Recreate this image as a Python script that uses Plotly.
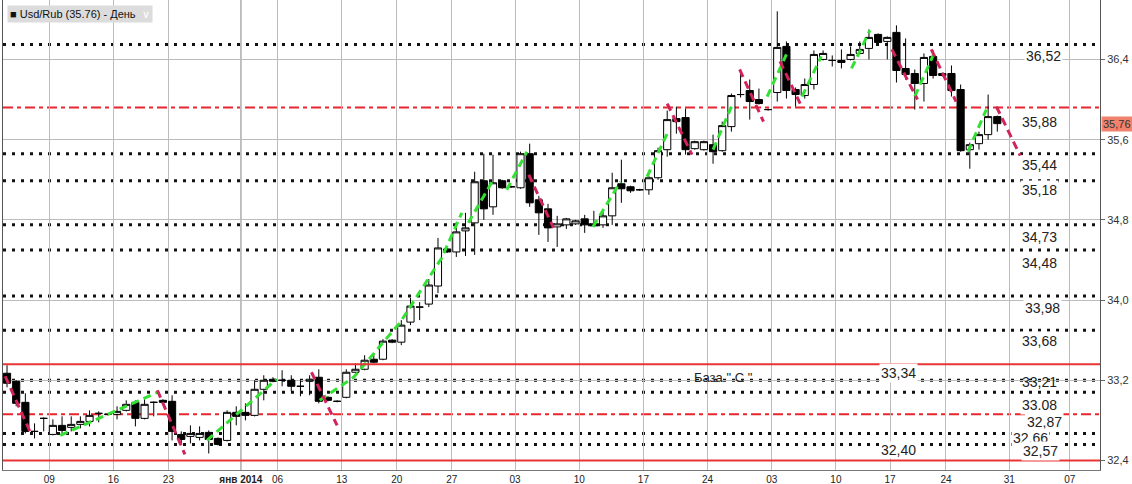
"""
Usd/Rub дневной график: свечи, уровни и зигзаг
"""
import plotly.graph_objects as go

# --- данные (свечи по торговым дням, индекс = номер бара) ---
opens = [33.27, 33.19, 32.98, 32.69, 32.82, 32.66, 32.75, 32.73, 32.76, 32.79,
         32.87, 32.86, 32.86, 32.90, 32.98, 32.82, 32.98, 33.00, 32.99, 32.66,
         32.64, 32.63, 32.68, 32.62, 32.60, 32.88, 32.88, 32.85, 33.11, 33.21,
         33.20, 33.20, 33.14, 33.19, 33.23, 33.03, 32.99, 33.03, 33.28, 33.31,
         33.41, 33.41, 33.60, 33.58, 33.78, 33.93, 33.96, 34.14, 34.51, 34.48,
         34.69, 34.77, 35.19, 34.93, 35.19, 35.13, 35.12, 35.46, 35.00, 34.91,
         34.73, 34.75, 34.76, 34.81, 34.76, 34.75, 34.84, 35.16, 35.13, 35.10,
         35.10, 35.22, 35.50, 35.81, 35.82, 35.51, 35.50, 35.55, 35.49, 35.73,
         36.05, 36.09, 36.00, 35.90, 36.07, 36.53, 36.10, 36.04, 36.15, 36.40,
         36.39, 36.39, 36.40, 36.46, 36.51, 36.65, 36.58, 36.67, 36.31, 36.26,
         36.16, 36.43, 36.26, 36.26, 36.10, 35.50, 35.56, 35.65, 35.83]
highs = [33.35, 33.20, 33.07, 32.77, 32.83, 32.81, 32.84, 32.84, 32.84, 32.90,
         32.89, 32.87, 32.94, 33.00, 33.00, 33.02, 32.99, 33.01, 33.05, 32.69,
         32.75, 32.74, 32.70, 32.63, 32.90, 32.94, 32.97, 33.20, 33.25, 33.23,
         33.30, 33.25, 33.20, 33.25, 33.31, 33.04, 33.00, 33.31, 33.37, 33.45,
         33.46, 33.61, 33.61, 33.80, 34.02, 33.98, 34.21, 34.62, 34.52, 34.78,
         34.87, 35.28, 35.46, 35.45, 35.20, 35.14, 35.48, 35.56, 35.04, 34.96,
         34.84, 34.82, 34.80, 34.85, 34.89, 34.88, 35.27, 35.40, 35.14, 35.11,
         35.24, 35.52, 35.89, 35.93, 35.91, 35.59, 35.59, 35.65, 35.78, 36.06,
         36.27, 36.20, 36.11, 35.91, 36.88, 36.58, 36.12, 36.21, 36.49, 36.49,
         36.44, 36.50, 36.53, 36.58, 36.70, 36.66, 36.63, 36.74, 36.61, 36.30,
         36.46, 36.49, 36.27, 36.34, 36.15, 35.57, 35.68, 36.05, 35.84]
lows = [33.13, 32.94, 32.67, 32.62, 32.69, 32.65, 32.67, 32.69, 32.72, 32.74,
        32.78, 32.85, 32.81, 32.89, 32.74, 32.81, 32.84, 32.97, 32.60, 32.57,
        32.57, 32.60, 32.47, 32.55, 32.59, 32.75, 32.80, 32.84, 33.00, 33.18,
        33.14, 33.09, 33.04, 33.05, 32.97, 32.99, 32.98, 33.02, 33.27, 33.30,
        33.37, 33.40, 33.57, 33.55, 33.75, 33.80, 33.93, 34.07, 34.47, 34.43,
        34.44, 34.45, 34.80, 34.85, 35.11, 35.12, 35.11, 34.93, 34.65, 34.58,
        34.53, 34.71, 34.75, 34.67, 34.73, 34.72, 34.75, 34.97, 35.07, 35.09,
        35.05, 35.20, 35.43, 35.66, 35.45, 35.50, 35.49, 35.36, 35.48, 35.68,
        36.02, 35.80, 35.95, 35.89, 35.98, 36.01, 35.93, 36.01, 36.10, 36.39,
        36.33, 36.31, 36.39, 36.45, 36.40, 36.55, 36.40, 36.17, 36.20, 35.90,
        35.98, 36.21, 36.23, 36.03, 35.48, 35.31, 35.50, 35.60, 35.68]
closes = [33.17, 32.97, 32.69, 32.69, 32.82, 32.75, 32.70, 32.76, 32.79, 32.85,
          32.87, 32.86, 32.89, 32.96, 32.82, 32.96, 32.98, 32.98, 32.69, 32.61,
          32.67, 32.67, 32.61, 32.56, 32.88, 32.84, 32.85, 33.11, 33.20, 33.19,
          33.20, 33.14, 33.14, 33.21, 32.99, 33.00, 32.99, 33.28, 33.31, 33.40,
          33.38, 33.59, 33.58, 33.75, 33.94, 33.93, 34.15, 34.52, 34.48, 34.68,
          34.72, 35.18, 34.91, 35.17, 35.12, 35.13, 35.46, 34.97, 34.87, 34.72,
          34.76, 34.81, 34.79, 34.75, 34.74, 34.84, 35.12, 35.11, 35.09, 35.10,
          35.22, 35.49, 35.80, 35.78, 35.50, 35.58, 35.58, 35.48, 35.74, 36.04,
          36.05, 35.98, 35.96, 35.90, 36.52, 36.09, 36.05, 36.15, 36.45, 36.46,
          36.39, 36.37, 36.45, 36.50, 36.62, 36.57, 36.62, 36.29, 36.25, 36.16,
          36.42, 36.24, 36.24, 36.09, 35.49, 35.55, 35.65, 35.83, 35.76]

# подписи оси X (понедельники), позиции в номерах баров
tick_pos = [4.6, 11.6, 17.6, 25.5, 29.5, 36.5, 42.5, 48.5, 55.4, 62.4,
            69.4, 76.4, 83.4, 90.4, 96.3, 102.4, 109.3, 115.9]
tick_text = ["09", "16", "23", "<b>янв 2014</b>", "06", "13", "20", "27", "03", "10",
             "17", "24", "03", "10", "17", "24", "31", "07"]
year_tick = 25.5

# горизонтальные уровни
dotted_levels = [36.55, 35.46, 35.19, 34.75, 34.50, 34.04, 33.70, 33.20, 33.08, 32.67, 32.56]
red_solid_levels = [33.36, 32.40]
red_dash_levels = [35.92, 32.86]

# зигзаг: отрезки (бар, цена)
up_legs = [
    [(5.8, 32.65), (16.4, 33.08)],
    [(21.8, 32.60), (29.4, 33.21)],
    [(34.1, 33.00), (37.8, 33.23), (42.9, 33.78), (47.4, 34.42), (49.6, 34.87)],
    [(50.3, 34.77), (52.9, 35.18)],
    [(54.5, 35.10), (56.7, 35.48)],
    [(63.9, 34.73), (66.9, 35.18)],
    [(69.8, 35.23), (72.1, 35.68)],
    [(77.0, 35.50), (79.0, 35.93)],
    [(82.9, 36.03), (85.0, 36.45)],
    [(86.7, 36.03), (88.8, 36.43)],
    [(92.1, 36.31), (94.1, 36.69)],
    [(99.0, 36.03), (101.2, 36.48)],
    [(104.8, 35.48), (106.8, 35.90)],
]
down_legs = [
    [(-0.2, 33.24), (2.5, 32.69)],
    [(16.4, 33.10), (19.4, 32.46)],
    [(33.2, 33.28), (36.0, 32.75)],
    [(56.9, 35.25), (59.6, 34.72)],
    [(72.0, 35.96), (74.7, 35.45)],
    [(79.9, 36.30), (82.5, 35.78)],
    [(84.3, 36.38), (86.5, 35.96)],
    [(96.5, 36.50), (99.3, 36.00)],
    [(100.8, 36.50), (103.5, 35.98)],
    [(107.9, 35.93), (110.5, 35.44)],
]

last_price = closes[-1]
y_ticks = [32.4, 33.2, 34.0, 34.8, 35.6, 36.4]

GRID = "#bcbcbc"
LABEL_FONT = dict(family="Liberation Sans, Arial", size=14, color="#222")


def legs_xy(legs):
    xs, ys = [], []
    for leg in legs:
        for px, py in leg:
            xs.append(px)
            ys.append(py)
        xs.append(None)
        ys.append(None)
    return xs, ys


bars = list(range(len(opens)))

fig = go.Figure()

fig.add_trace(go.Candlestick(
    x=bars, open=opens, high=highs, low=lows, close=closes,
    increasing=dict(fillcolor="white", line=dict(color="black", width=1)),
    decreasing=dict(fillcolor="black", line=dict(color="black", width=1)),
    whiskerwidth=0,
    showlegend=False,
    hoverinfo="skip",
))

ux, uy = legs_xy(up_legs)
fig.add_trace(go.Scatter(x=ux, y=uy, mode="lines", showlegend=False, hoverinfo="skip",
                         line=dict(color="#33e033", width=3, dash="8px,5px")))
dx, dy = legs_xy(down_legs)
fig.add_trace(go.Scatter(x=dx, y=dy, mode="lines", showlegend=False, hoverinfo="skip",
                         line=dict(color="#d0245a", width=3, dash="8px,5px")))

# уровни
shapes = []
for lv in dotted_levels:
    shapes.append(dict(type="line", xref="paper", x0=0, x1=1, yref="y", y0=lv, y1=lv,
                       layer="between", line=dict(color="#111", width=3, dash="3px,6px")))
for lv in red_solid_levels:
    shapes.append(dict(type="line", xref="paper", x0=0, x1=1, yref="y", y0=lv, y1=lv,
                       layer="above", line=dict(color="#e83434", width=2)))
for lv in red_dash_levels:
    shapes.append(dict(type="line", xref="paper", x0=0, x1=1, yref="y", y0=lv, y1=lv,
                       layer="between", line=dict(color="#e8262e", width=2, dash="10px,4px,4px,4px")))
# граница года
shapes.append(dict(type="line", xref="x", x0=year_tick, x1=year_tick, yref="paper", y0=0, y1=1,
                   layer="between", line=dict(color="#5a5a5a", width=1)))

# подписи уровней: текст, уровень, x (бар), сдвиг по y, фон
level_labels = [
    ("36,52", 36.55, 113.0, -12, True),
    ("35,88", 35.92, 112.6, -14, True),
    ("35,44", 35.46, 112.6, -11, True),
    ("35,18", 35.19, 112.6, -9, True),
    ("34,73", 34.75, 112.6, -12, True),
    ("34,48", 34.50, 112.6, -13, True),
    ("33,98", 34.04, 112.9, -12, True),
    ("33,68", 33.70, 112.6, -11, True),
    ("33,34", 33.36, 97.2, -9, True),
    ("33,21", 33.20, 112.6, -2, False),
    ("33.08", 33.08, 112.6, -13, True),
    ("32,87", 32.86, 113.1, -8, True),
    ("32,66", 32.67, 111.6, -5, True),
    ("32,57", 32.56, 112.7, -7, True),
    ("32,40", 32.40, 97.2, 10, True),
]
annotations = []
for text, lv, xpos, ysh, bg in level_labels:
    annotations.append(dict(
        x=xpos, y=lv, xref="x", yref="y", text=text, showarrow=False,
        yshift=ysh, font=LABEL_FONT, borderpad=1 if text != "32,40" else 0,
        bgcolor="white" if bg else "rgba(0,0,0,0)",
    ))

annotations.append(dict(
    x=74.7, y=33.20, xref="x", yref="y", xanchor="left", yshift=3,
    text='База " С "', showarrow=False, font=dict(family="Liberation Sans, Arial", size=13, color="#222"),
))

# текущая цена на правой оси
annotations.append(dict(
    x=1, y=last_price, xref="paper", yref="y", xanchor="left", xshift=1,
    text=f"{last_price:.2f}".replace(".", ","), showarrow=False,
    bgcolor="#f0826e", borderpad=1,
    font=dict(family="Liberation Sans, Arial", size=11, color="#333"),
))

# заголовок инструмента
annotations.append(dict(
    x=0, y=1, xref="paper", yref="paper", xanchor="left", yanchor="top",
    xshift=4, yshift=-5, align="left", showarrow=False,
    text=f"■ Usd/Rub ({last_price:.2f}) - День  <span style='color:white'>∨</span>",
    bgcolor="#dcdcdc", borderpad=2,
    font=dict(family="Liberation Sans, Arial", size=11, color="#111"),
))

fig.update_layout(
    width=1132, height=484,
    margin=dict(l=3, r=32, t=0, b=14),
    paper_bgcolor="white", plot_bgcolor="white",
    separators=", ",
    shapes=shapes,
    annotations=annotations,
    showlegend=False,
    hovermode=False,
    boxgap=0.22, boxgroupgap=0,
    font=dict(family="Liberation Sans, Arial", color="#222"),
)

fig.update_xaxes(
    range=[-0.44, 119.2],
    tickvals=tick_pos, ticktext=tick_text,
    showgrid=True, gridcolor=GRID, gridwidth=1,
    showline=True, linecolor="#777", linewidth=1,
    ticks="", tickfont=dict(size=10, color="#222"),
    zeroline=False, rangeslider_visible=False,
)
fig.update_yaxes(
    side="right",
    range=[32.305, 36.993],
    tickvals=y_ticks, tickformat=".1f",
    showgrid=True, gridcolor=GRID, gridwidth=1,
    showline=True, linecolor="#555", linewidth=1, mirror=True,
    ticks="outside", ticklen=4, tickcolor="#666",
    tickfont=dict(size=11, color="#333"),
    zeroline=False,
)

fig.write_html("out.html", config={"displayModeBar": False},
               post_script="document.body.style.margin='0';")
